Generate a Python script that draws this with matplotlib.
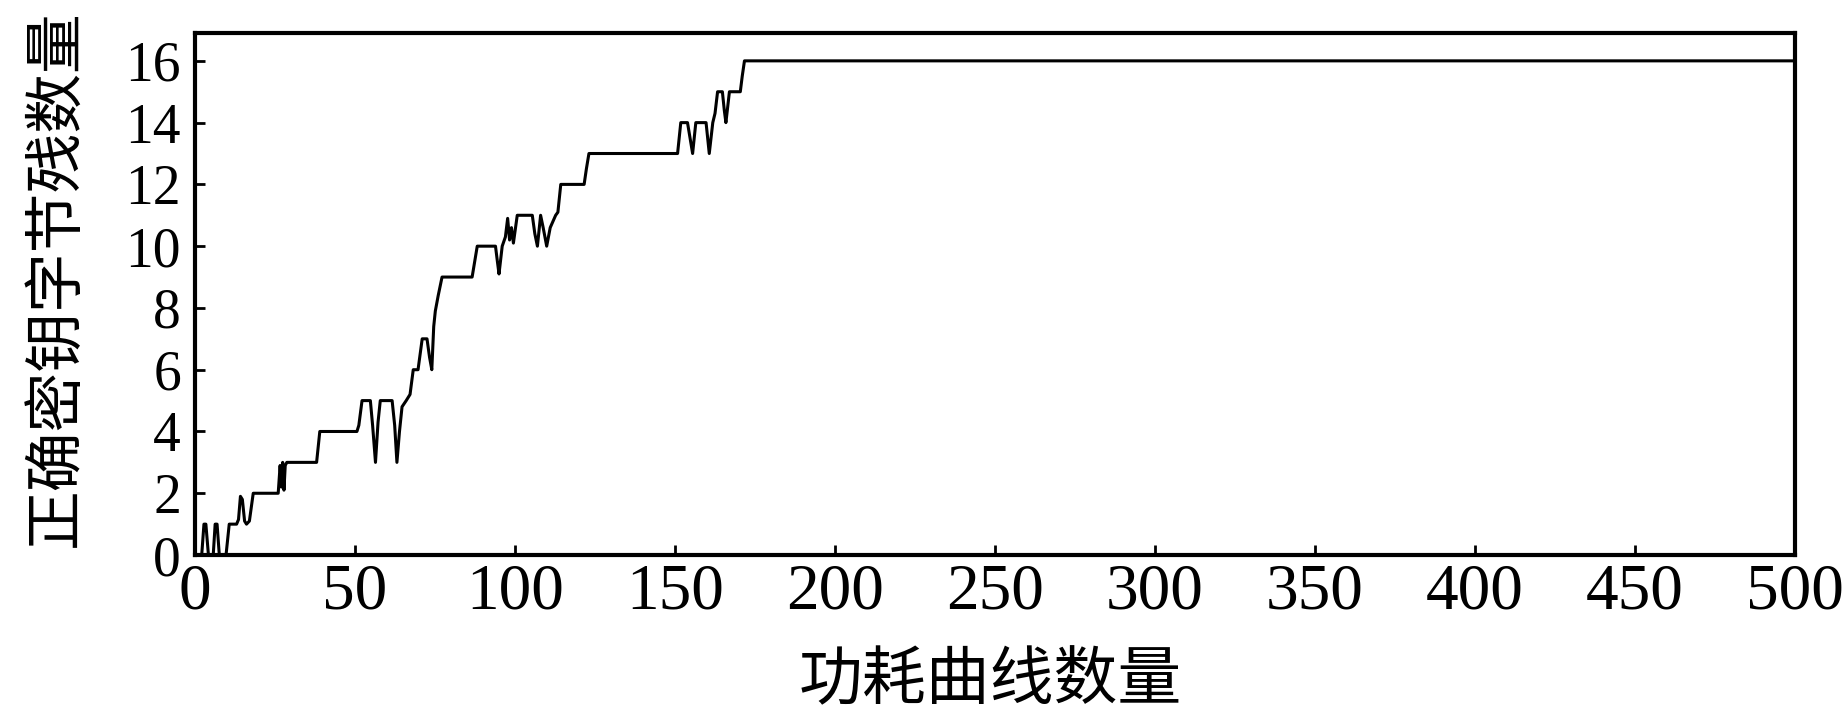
import matplotlib
matplotlib.use("Agg")
import matplotlib.pyplot as plt

plt.rcParams['font.family'] = ['Liberation Serif', 'Noto Sans CJK SC', 'DejaVu Sans']

# curve breakpoints (number of traces, correct key bytes)
traces = [0, 2.1, 2.8, 3.4, 4.2, 5.7, 6.3, 6.9, 7.6, 9.7, 10.7, 13.0, 13.6, 14.2, 14.8,
          15.5, 16.1, 17.0, 18.2, 26.0, 26.6, 27.0, 27.4, 27.8, 28.2, 28.7, 38.0, 39.0,
          50.6, 51.2, 52.2, 54.8, 55.5, 56.4, 57.2, 57.9, 61.6, 62.4, 63.1, 63.9, 64.7,
          66.0, 67.2, 68.2, 69.7, 71.0, 72.5, 73.3, 74.0, 74.6, 75.1, 76.0, 77.2, 86.6,
          88.2, 93.9, 94.5, 95.0, 96.0, 97.0, 97.7, 98.3, 98.9, 99.5, 100.7, 105.4, 106.2,
          107.0, 108.0, 108.8, 109.9, 111.0, 112.7, 113.4, 114.3, 121.6, 122.3, 123.1,
          150.8, 151.8, 153.9, 154.7, 155.5, 156.5, 159.7, 160.2, 160.7, 161.8, 162.5,
          163.3, 164.8, 165.4, 165.9, 167.0, 170.4, 171.0, 171.7, 500]
correct = [0, 0, 1, 1, 0, 0, 1, 1, 0, 0, 1, 1, 1.15, 1.9, 1.8,
           1.1, 1.0, 1.1, 2, 2, 2.9, 2.2, 3.0, 2.1, 2.9, 3, 3, 4,
           4, 4.2, 5, 5, 4.2, 3, 4.3, 5, 5, 4.2, 3, 4, 4.8,
           5, 5.2, 6, 6, 7, 7, 6.4, 6, 7.4, 7.9, 8.4, 9, 9,
           10, 10, 9.5, 9.1, 10, 10.3, 10.9, 10.2, 10.6, 10.1, 11, 11, 10.4,
           10, 11, 10.6, 10, 10.6, 11, 11.1, 12, 12, 12.5, 13,
           13, 14, 14, 13.5, 13, 14, 14, 13.5, 13, 14, 14.3,
           15, 15, 14.4, 14, 15, 15, 15.5, 16, 16]

xticks = list(range(0, 501, 50))
yticks = list(range(0, 17, 2))
xlabel = '功耗曲线数量'
ylabel = '正确密钥字节残数量'

fig = plt.figure(figsize=(18.43, 7.17), dpi=100)
ax = fig.add_axes([0.1058, 0.2259, 0.8682, 0.728])

ax.plot(traces, correct, color='black', linewidth=2.2)

ax.set_xlim(0, 500)
ax.set_ylim(0, 16.9)
ax.set_xticks(xticks)
ax.set_yticks(yticks)

for s in ax.spines.values():
    s.set_linewidth(3)

ax.tick_params(direction='in', length=7, width=2, top=False, right=False)
ax.tick_params(axis='x', labelsize=47, pad=6)
ax.tick_params(axis='y', labelsize=40, pad=10)

fig.text(990 / 1843, 1 - 681 / 717, xlabel, fontsize=46, ha='center', va='center',
         family=['Noto Sans CJK SC'])
fig.text(57 / 1843, 1 - 278 / 717, ylabel, fontsize=43, ha='center', va='center',
         rotation=90, family=['Noto Sans CJK SC'])

fig.savefig('out.png', dpi=100)
